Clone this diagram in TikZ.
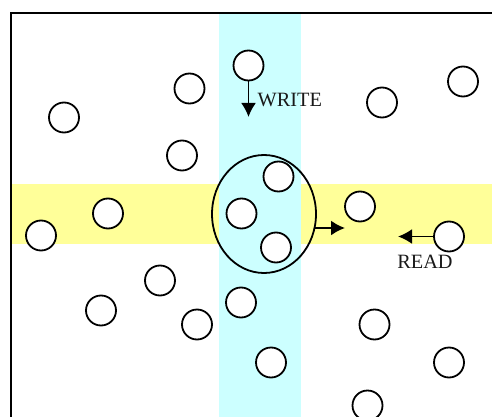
\documentclass[tikz,border=0pt]{standalone}
\usepackage{fontspec}
\setmainfont{Liberation Serif}
\usetikzlibrary{arrows.meta,shapes.geometric}
\definecolor{bandc}{RGB}{204,255,255}
\definecolor{bandy}{RGB}{255,255,153}
\tikzset{
  proc/.style={circle,draw=black,fill=white,line width=1.8pt,minimum size=30pt,inner sep=0pt},
  flow/.style={line width=1.9pt,-{Latex[length=14pt,width=15pt]}},
  lbl/.style={inner sep=0pt,font=\fontsize{20.3}{23}\selectfont,text=black!90}
}
\begin{document}
\begin{tikzpicture}[x=1pt,y=-1pt]
\useasboundingbox (0,0) rectangle (492,417);
\fill[white] (0,0) rectangle (492,417);
\fill[bandy] (11,184) rectangle (219,244);
\fill[bandy] (301,184) rectangle (492,244);
\fill[bandc] (219,13) rectangle (301,417);
\draw[line width=1.8pt,line cap=rect] (492,13) -- (11,13) -- (11,417);
\foreach \n/\x/\y in {a/248.5/65.5,b/189.5/88.5,c/64/117.5,d/182/155.5,e/382/102.5,f/463/81.5,g/278.5/176.5,h/241.5/213.5,i/276/247.5,j/360/206.5,k/449/236.5,l/108/213.5,m/41/235.5,n/160/280.5,o/101/310.5,p/197/324.5,q/241/302.5,r/271/362.5,s/374.5/324.5,t/449/362.5,u/367.5/405.5}
  \node[proc] (\n) at (\x,\y) {};
\node[draw=black,line width=1.8pt,ellipse,minimum width=104pt,minimum height=118pt,inner sep=0pt] (group) at (264,214) {};
\coordinate (wend) at (248.5,117);
\coordinate (rend) at (398,236.5);
\coordinate (gstart) at (315,228);
\coordinate (gend) at (345,228);
\draw[flow] (a) -- (wend);
\draw[flow] (k) -- (rend);
\draw[flow] (gstart) -- (gend);
\node[lbl,anchor=west] (wlabel) at (257.5,100) {WRITE};
\node[lbl,anchor=center] (rlabel) at (425,262) {READ};
\end{tikzpicture}
\end{document}
